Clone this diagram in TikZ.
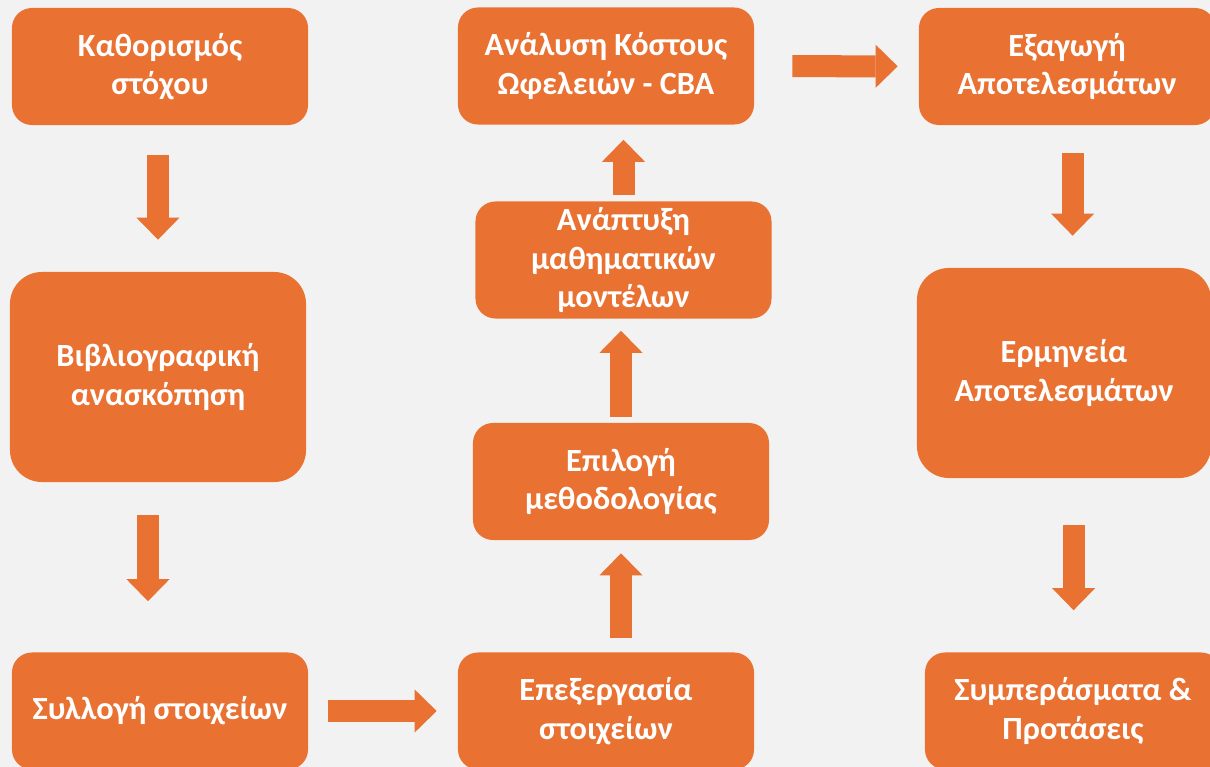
\documentclass[tikz,border=0pt]{standalone}
\usepackage{fontspec}
\setmainfont{Carlito}
\usepackage{xcolor}
\usepackage{tikz}
\usetikzlibrary{positioning,calc,arrows.meta}

\definecolor{boxorange}{HTML}{E97132}
\definecolor{pagegray}{HTML}{F2F2F2}

\begin{document}
\begin{tikzpicture}[x=0.025cm, y=-0.025cm,
    orange block/.style={fill=boxorange, rounded corners=0.5cm, minimum width=7.4cm, minimum height=2.925cm, align=center, inner sep=0pt, text=white, font=\bfseries\fontsize{23}{27.5}\selectfont},
    tall block/.style={orange block, rounded corners=0.8cm, minimum height=5.25cm},
    flow arrow/.style={draw=boxorange, line width=0.55cm, -{Triangle[width=1.075cm, length=0.55cm, line width=0pt]}}]
    \fill[pagegray] (0,0) rectangle (1210,767);
    \clip (0,0) rectangle (1210,767);
    \useasboundingbox (0,0) rectangle (1210,767);

    % left column
    \node[orange block] (goal) at (160,66.5) {Καθορισμός \\ στόχου};
    \node[tall block] (review) at (158,377) {Βιβλιογραφική \\ ανασκόπηση};
    \node[orange block] (collect) at (160,711) {Συλλογή στοιχείων};

    % middle column
    \node[orange block] (process) at (606,711) {Επεξεργασία \\ στοιχείων};
    \node[orange block] (method) at (621,481.5) {Επιλογή \\ μεθοδολογίας};
    \node[orange block] (models) at (623.5,260) {Ανάπτυξη \\ μαθηματικών \\ μοντέλων};
    \node[orange block] (cba) at (606,66) {Ανάλυση Κόστους \\ Ωφελειών - CBA};

    % right column
    \node[orange block] (extract) at (1067,66.5) {Εξαγωγή \\ Αποτελεσμάτων};
    \node[tall block, minimum width=7.35cm] (interp) at (1064,373) {Ερμηνεία \\ Αποτελεσμάτων};
    \node[orange block] (concl) at (1073,711) {Συμπεράσματα \& \\ Προτάσεις};

    \draw[flow arrow, shorten <=0.75cm, shorten >=0.8cm] ([xshift=-0.05cm]goal.south) -- ([xshift=-0.05cm]goal.south |- review.north);
    \draw[flow arrow, shorten <=0.825cm, shorten >=1.275cm] ([xshift=-0.25cm]review.south) -- ([xshift=-0.25cm]review.south |- collect.north);
    \draw[flow arrow, shorten <=0.5cm, shorten >=0.525cm] (collect) -- (process);
    \draw[flow arrow, shorten <=0.35cm, shorten >=0.325cm] (method.south |- process.north) -- (method.south);
    \draw[flow arrow, shorten <=0.15cm, shorten >=0.3cm] (method.north) -- (method.north |- models.south);
    \draw[flow arrow, shorten <=0.15cm, shorten >=0.375cm] (models.north) -- (models.north |- cba.south);
    \draw[flow arrow, shorten <=0.95cm, shorten >=0.525cm] (cba) -- (extract);
    \draw[flow arrow, shorten <=0.7cm, shorten >=0.8cm] ([xshift=0.14cm]extract.south) -- ([xshift=0.14cm]extract.south |- interp.north);
    \draw[flow arrow, shorten <=1.175cm, shorten >=1.05cm] ([xshift=0.24cm]interp.south) -- ([xshift=0.24cm]interp.south |- concl.north);
\end{tikzpicture}
\end{document}
